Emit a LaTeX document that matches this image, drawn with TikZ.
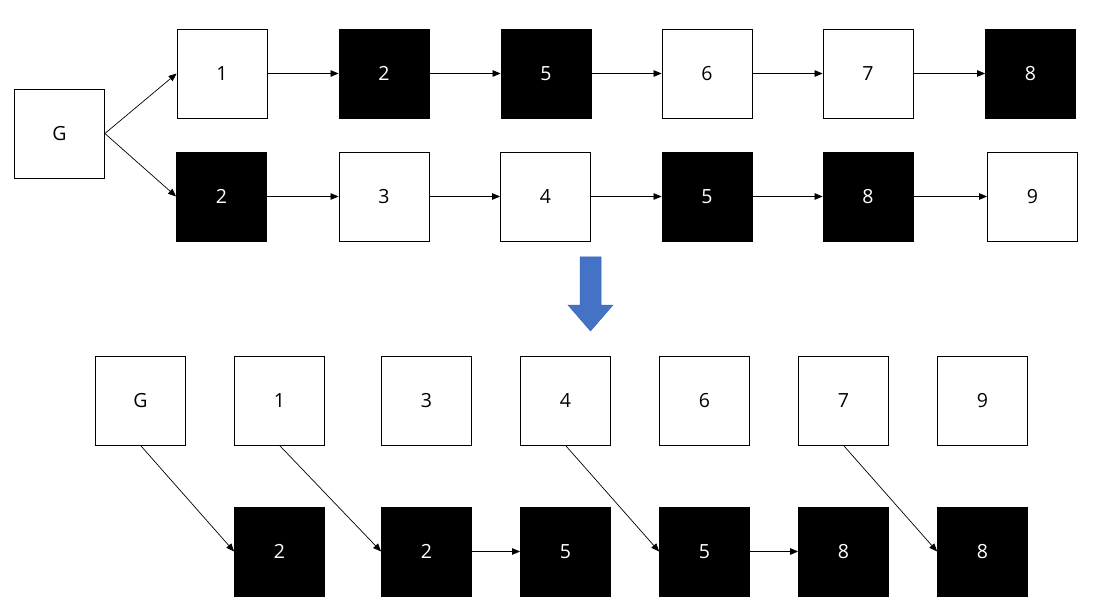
\documentclass[tikz,border=0pt]{standalone}
\usepackage{fontspec}
\setmainfont{Open Sans}
\usepackage{xcolor}
\usepackage{tikz}
\usetikzlibrary{positioning,arrows.meta,calc}

\definecolor{arrowblue}{HTML}{4472C4}
\definecolor{arrowedge}{HTML}{3A64B0}

\begin{document}
\begin{tikzpicture}[
    x=1pt, y=-1pt,
    font=\fontsize{19.5}{22}\selectfont,
    box/.style={draw, line width=0.8pt, fill=white, minimum width=90pt, minimum height=89pt, inner sep=0pt},
    dark/.style={box, fill=black, text=white},
    arrow/.style={-{Triangle[length=8pt, width=6.5pt]}, line width=0.7pt}
]
\useasboundingbox (0,0) rectangle (1097,612);

% before: two chains from G
\node[box] (g) at (59.5,133.5) {G};

\node[box]  (a1) at (222,73.5) {1};
\node[dark] (a2) at (384,73.5) {2};
\node[dark] (a5) at (546,73.5) {5};
\node[box]  (a6) at (707,73.5) {6};
\node[box]  (a7) at (868,73.5) {7};
\node[dark] (a8) at (1030.5,73.5) {8};

\node[dark] (b2) at (221.5,196.5) {2};
\node[box]  (b3) at (384,196.5) {3};
\node[box]  (b4) at (545.5,196.5) {4};
\node[dark] (b5) at (707,196.5) {5};
\node[dark] (b8) at (868,196.5) {8};
\node[box]  (b9) at (1032.5,196.5) {9};

\draw[arrow] (g.east) -- (a1.west);
\draw[arrow] (g.east) -- (b2.west);
\draw[arrow] (a1) -- (a2);
\draw[arrow] (a2) -- (a5);
\draw[arrow] (a5) -- (a6);
\draw[arrow] (a6) -- (a7);
\draw[arrow] (a7) -- (a8);
\draw[arrow] (b2) -- (b3);
\draw[arrow] (b3) -- (b4);
\draw[arrow] (b4) -- (b5);
\draw[arrow] (b5) -- (b8);
\draw[arrow] (b8) -- (b9);

% big blue arrow
\fill[arrowblue, draw=arrowedge, line width=0.5pt]
    (580,257) -- (601,257) -- (601,305) -- (613,305) -- (590.5,331)
    -- (568,305) -- (580,305) -- cycle;

% after: merged
\node[box] (cg) at (140.5,400.5) {G};
\node[box] (c1) at (279.5,400.5) {1};
\node[box] (c3) at (426.5,400.5) {3};
\node[box] (c4) at (565.5,400.5) {4};
\node[box] (c6) at (704.5,400.5) {6};
\node[box] (c7) at (843.5,400.5) {7};
\node[box] (c9) at (982.5,400.5) {9};

\node[dark] (d2a) at (279.5,551.5) {2};
\node[dark] (d2b) at (426.5,551.5) {2};
\node[dark] (d5a) at (565.5,551.5) {5};
\node[dark] (d5b) at (704.5,551.5) {5};
\node[dark] (d8a) at (843.5,551.5) {8};
\node[dark] (d8b) at (982.5,551.5) {8};

\draw[arrow] (cg.south) -- (d2a.west);
\draw[arrow] (c1.south) -- (d2b.west);
\draw[arrow] (d2b) -- (d5a);
\draw[arrow] (c4.south) -- (d5b.west);
\draw[arrow] (d5b) -- (d8a);
\draw[arrow] (c7.south) -- (d8b.west);

\end{tikzpicture}
\end{document}
